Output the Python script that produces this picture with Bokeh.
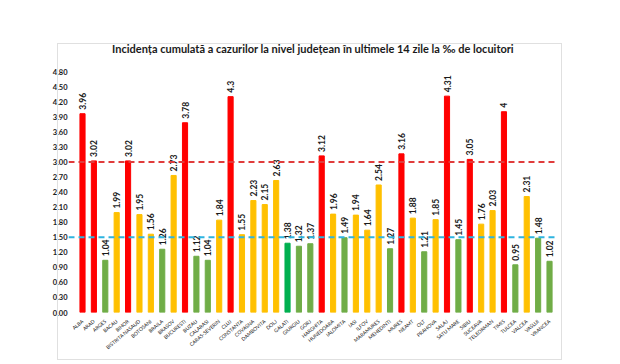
import math
from bokeh.plotting import figure
from bokeh.layouts import column
from bokeh.models import FixedTicker, ColumnDataSource, Range1d, CustomJSTickFormatter, Div
from bokeh.core.properties import value
from bokeh.embed import file_html
from bokeh.resources import INLINE

counties = ["ALBA", "ARAD", "ARGES", "BACAU", "BIHOR", "BISTRITA NASAUD", "BOTOSANI",
            "BRAILA", "BRASOV", "BUCURESTI", "BUZAU", "CALARASI", "CARAS-SEVERIN", "CLUJ",
            "CONSTANTA", "COVASNA", "DAMBOVITA", "DOLJ", "GALATI", "GIURGIU", "GORJ",
            "HARGHITA", "HUNEDOARA", "IALOMITA", "IASI", "ILFOV", "MARAMURES", "MEHEDINTI",
            "MURES", "NEAMT", "OLT", "PRAHOVA", "SALAJ", "SATU MARE", "SIBIU", "SUCEAVA",
            "TELEORMAN", "TIMIS", "TULCEA", "VALCEA", "VASLUI", "VRANCEA"]
values = [3.96, 3.02, 1.04, 1.99, 3.02, 1.95, 1.56, 1.26, 2.73, 3.78, 1.12, 1.04, 1.84, 4.3,
          1.55, 2.23, 2.15, 2.63, 1.38, 1.32, 1.37, 3.12, 1.96, 1.49, 1.94, 1.64, 2.54, 1.27,
          3.16, 1.88, 1.21, 1.85, 4.31, 1.45, 3.05, 1.76, 2.03, 4, 0.95, 2.31, 1.48, 1.02]
y_ticks = [round(0.3 * i, 2) for i in range(17)]
red_threshold = 3.0
blue_threshold = 1.5
highlight = "GALATI"

RED, YELLOW, GREEN, BRIGHT = "#ff0000", "#ffc000", "#70ad47", "#00b050"
colors = []
for c, v in zip(counties, values):
    if c == highlight:
        colors.append(BRIGHT)
    elif v >= red_threshold:
        colors.append(RED)
    elif v >= blue_threshold:
        colors.append(YELLOW)
    else:
        colors.append(GREEN)

xs = list(range(len(counties)))
src = ColumnDataSource(dict(x=xs, v=values, c=colors, lab=[f"{v:g}" for v in values]))

X0, X1 = -1.23, 41.7
FONT = "Lato"
p = figure(width=600, height=364, output_backend="svg", toolbar_location=None,
           x_range=Range1d(X0, X1), y_range=Range1d(0, 5.02),
           min_border_left=68, min_border_right=43, min_border_top=60, min_border_bottom=52)
p.title.text = "Incidența cumulată a cazurilor la nivel județean în ultimele 14 zile la ‰ de locuitori"
p.title.align = "center"
p.title.text_font = FONT
p.title.text_font_size = "11px"
p.title.text_font_style = "bold"
p.title.text_color = "#1a1a1a"
p.title.standoff = 12
p.title.offset = -5

p.vbar(x="x", top="v", width=0.45, color="c", source=src)
p.text(x="x", y="v", text="lab", angle=90, angle_units="deg", text_align="left",
       text_baseline="middle", y_offset=-4, text_font_size="8.5px",
       text_font_style="bold", text_color="#1a1a1a", source=src, text_font=value(FONT))

p.line(x=[X0, X1], y=[red_threshold, red_threshold], line_color="#e03c3c",
       line_width=2, line_dash="6 4")
p.line(x=[X0, X1], y=[blue_threshold, blue_threshold], line_color="#2eb4e0",
       line_width=2, line_dash="6 4")

p.xgrid.visible = False
p.ygrid.visible = False
p.outline_line_color = None
p.background_fill_color = "white"
p.border_fill_color = "white"

p.xaxis.ticker = FixedTicker(ticks=xs)
p.xaxis.major_label_overrides = {i: c for i, c in enumerate(counties)}
p.xaxis.major_label_orientation = 0.7
p.xaxis.axis_line_color = None
p.xaxis.major_tick_line_color = None
p.xaxis.minor_tick_line_color = None
p.xaxis.major_label_text_font = FONT
p.xaxis.major_label_text_font_size = "5px"
p.xaxis.major_label_text_color = "#222222"
p.xaxis.major_label_standoff = 2

p.yaxis.ticker = FixedTicker(ticks=y_ticks)
p.yaxis.formatter = CustomJSTickFormatter(code="return tick.toFixed(2);")
p.yaxis.axis_line_color = None
p.yaxis.major_tick_line_color = None
p.yaxis.minor_tick_line_color = None
p.yaxis.major_tick_out = 0
p.yaxis.major_label_standoff = 1
p.yaxis.major_label_text_font = FONT
p.yaxis.major_label_text_font_size = "7.5px"
p.yaxis.major_label_text_font_style = "bold"
p.yaxis.major_label_text_color = "#1a1a1a"

frame_box = Div(text="", width=505, height=317,
                styles={"position": "absolute", "left": "52px", "top": "38px",
                        "width": "505px", "height": "317px",
                        "border": "1px solid #e0e0e0", "box-sizing": "border-box",
                        "pointer-events": "none"})
layout = column(p, frame_box)
open("out.html", "w").write(file_html(layout, INLINE))
